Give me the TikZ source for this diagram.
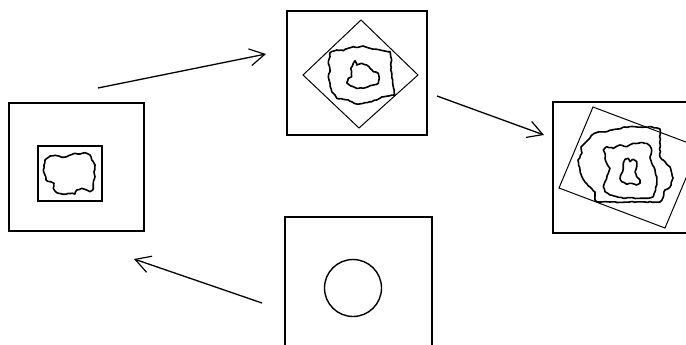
\documentclass[tikz,border=0pt]{standalone}
\usetikzlibrary{arrows.meta,decorations.pathmorphing}
\begin{document}
\begin{tikzpicture}[x=1pt,y=-1pt,
  panel/.style={draw, line width=1.8pt, inner sep=0pt, fill=none},
  thinframe/.style={draw, line width=1pt},
  blob/.style={draw, line width=1.6pt, line join=round,
    decorate, decoration={random steps, segment length=2.5pt, amplitude=0.5pt}},
  link/.style={line width=1.3pt, -{Straight Barb[length=15pt,width=17pt,line width=1.2pt]}}]
\pgfmathsetseed{7}
\useasboundingbox (0,0) rectangle (686,345);
\clip (0,0) rectangle (686,345);

% the four panels
\node[panel, minimum width=135pt, minimum height=128pt] (src) at (76.5,167) {};
\node[panel, minimum width=140pt, minimum height=124pt] (rot) at (357,73) {};
\node[panel, minimum width=140pt, minimum height=131pt] (res) at (623,167.5) {};
\node[panel, minimum width=147pt, minimum height=133pt] (ref) at (358.5,283.5) {};

% left panel: shape in its bounding box
\draw[thinframe, line width=1.5pt] (38,146) rectangle (102,201);
\draw[blob] (45,160) -- (50,156) -- (56.7,155.7) -- (61.7,157.3) -- (66.7,156.7)
  -- (75,153.3) -- (80,154) -- (85,152.7) -- (90,155) -- (91.7,160) -- (95,165)
  -- (94,171.7) -- (95,176.7) -- (93.3,183.3) -- (92.7,190) -- (90,191.7)
  -- (86.7,190) -- (81.7,188.3) -- (76.7,190) -- (75,194) -- (68.3,193.3)
  -- (63.3,194.3) -- (56.7,192.7) -- (53.3,188.3) -- (54,183.3) -- (50,181.7)
  -- (46,180) -- (45,175) -- (43.3,170) -- (44,165) -- cycle;

% top panel: diamond with two contours
\draw[thinframe] (361,20) -- (418,75) -- (359,128) -- (303,75) -- cycle;
\draw[blob] (330,52.7) -- (336.7,50) -- (343.3,50.7) -- (348.3,48.3) -- (353.3,46.7)
  -- (358.3,47.3) -- (363.3,46) -- (370,48.3) -- (376.7,49.3) -- (383.3,50.7)
  -- (390,51.7) -- (391.7,60) -- (390.7,70) -- (392.7,80) -- (393.5,88)
  -- (395,95) -- (388.3,96) -- (381.7,97) -- (376.7,100) -- (370,101.7)
  -- (363.3,103.3) -- (356.7,104) -- (351.7,101.7) -- (348.3,100) -- (343.3,99.3)
  -- (336.7,98.3) -- (335,95) -- (331.7,91.7) -- (330,83.3) -- (328.3,76.7)
  -- (330,70) -- (328.3,63.3) -- (330,56.7) -- cycle;
\draw[blob] (353.3,63.3) -- (355,60.7) -- (356.7,65) -- (361.7,63.3) -- (366.7,65)
  -- (370,68.3) -- (373.3,71.7) -- (378.3,73.3) -- (379.3,78.3) -- (378.3,83.3)
  -- (373.3,85) -- (368.3,86.7) -- (363.3,88.3) -- (356.7,88.3) -- (353.3,86.7)
  -- (349.3,85) -- (346.7,82.7) -- (348.3,78.3) -- (351.7,76.7) -- (351.7,71.7)
  -- (350.7,68.3) -- cycle;

% right panel: tilted frame with three contours
\draw[thinframe] (593,107) -- (699,147) -- (665,228) -- (559,188) -- cycle;
\draw[blob] (581,147) -- (583,145) -- (588,140) -- (592,135) -- (598,132)
  -- (605,132) -- (612,130) -- (618,129) -- (625,127) -- (652,127) -- (660,129)
  -- (660,157) -- (670,167) -- (673,178) -- (670,187) -- (665,190) -- (662,200)
  -- (660,202) -- (597,202) -- (595,200) -- (595,192) -- (590,187) -- (585,182)
  -- (582,177) -- (580,170) -- (578,160) -- (582,153) -- cycle;
\draw[blob] (605,153.3) -- (603.3,150) -- (606.7,146.7) -- (613.3,148.3) -- (620,145)
  -- (626.7,146.7) -- (633.3,143.3) -- (640,142.7) -- (646.7,143.3) -- (650,146)
  -- (651.7,150) -- (650,156.7) -- (651.7,163.3) -- (655,170) -- (656.7,176.7)
  -- (656.7,185) -- (655,191.7) -- (653.3,196.7) -- (646.7,198.3) -- (640,198.3)
  -- (630,197.7) -- (623.3,198.3) -- (616.7,196.7) -- (610,195) -- (605,191.7)
  -- (603.3,186.7) -- (605,181.7) -- (606.7,178.3) -- (608.3,173.3) -- (610,168.3)
  -- (606.7,163.3) -- (605,158.3) -- cycle;
\draw[blob] (623.3,163.3) -- (625,159.3) -- (628.3,158.3) -- (630,161.7) -- (633.3,159.3)
  -- (636.7,161.7) -- (636.7,166.7) -- (635,171.7) -- (636.7,176.7) -- (640,180)
  -- (640,183.3) -- (636.7,185) -- (631.7,183.3) -- (626.7,184.3) -- (621.7,181.7)
  -- (620,178.3) -- (621.7,173.3) -- (623.3,168.3) -- cycle;

% bottom panel: reference circle
\node[draw, circle, line width=1.4pt, minimum size=57pt, inner sep=0pt] (disc) at (353,288) {};

% arrows between the panels
\coordinate (a1s) at (98,88);   \coordinate (a1e) at (266,54);
\coordinate (a2s) at (437,96);  \coordinate (a2e) at (544,135);
\coordinate (a3s) at (262,303); \coordinate (a3e) at (134,259);
\draw[link] (a1s) -- (a1e);
\draw[link] (a2s) -- (a2e);
\draw[link] (a3s) -- (a3e);
\end{tikzpicture}
\end{document}
